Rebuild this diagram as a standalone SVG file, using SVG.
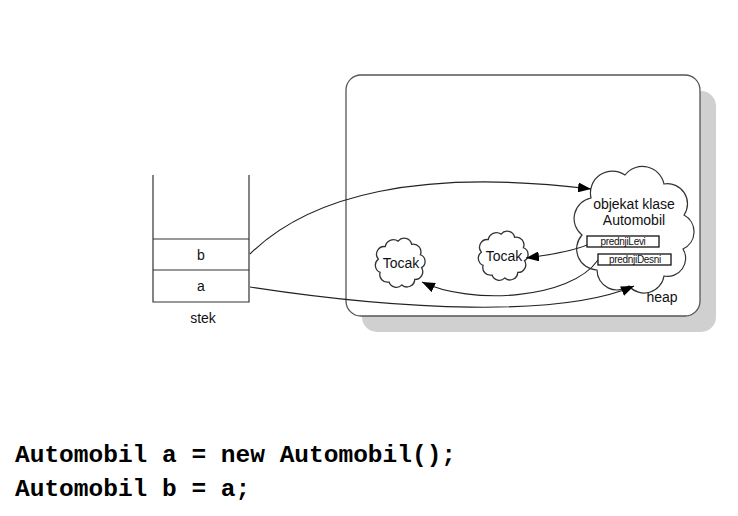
<svg xmlns="http://www.w3.org/2000/svg" width="738" height="516" viewBox="0 0 738 516">
<style>
text{font-family:"Liberation Sans",Arial,sans-serif;fill:#111}
.lbl{font-size:14px;text-anchor:middle}
.fld{font-size:10px;text-anchor:middle;letter-spacing:-0.3px}
.code{font-family:"Liberation Mono","Courier New",monospace;font-weight:bold;font-size:24.5px;fill:#000}
.ln{stroke:#333;stroke-width:1.2;fill:none}
.cloud{fill:#fff;stroke:#333;stroke-width:1.2}
.conn{fill:none;stroke:#222;stroke-width:1.1}
.box{fill:#fff;stroke:#111;stroke-width:1.3}
</style>
<defs>
<marker id="ah" markerUnits="userSpaceOnUse" markerWidth="14" markerHeight="10" refX="13" refY="5" orient="auto">
<path d="M0,0 L13,5 L0,10 Z" fill="#000"/>
</marker>
<path id="small" d="M-1.7,-19.9 A7 7 0 0 1 10.6,-17 A7 7 0 0 1 18.5,-7.5 A6.5 6.5 0 0 1 19.6,4.2 A7 7 0 0 1 13.4,14.9 A7 7 0 0 1 1.7,19.9 A7 7 0 0 1 -10,17.3 A7 7 0 0 1 -18.1,8.5 A7 7 0 0 1 -19.7,-3.5 A7 7 0 0 1 -13.4,-14.9 A7.5 7.5 0 0 1 -1.7,-19.9 Z"/>
</defs>
<rect width="738" height="516" fill="#fff"/>
<g id="heap">
<rect x="362" y="91" width="354" height="241" rx="15" fill="#d0d0d0"/>
<rect x="346" y="75" width="354" height="241" rx="15" fill="#fff" stroke="#555" stroke-width="1.3"/>
<text class="lbl" x="662" y="302">heap</text>
</g>
<g id="stek">
<path class="ln" d="M153,175 V302 H249 V175 M153,239 H249 M153,270 H249"/>
<text class="lbl" x="201" y="260">b</text>
<text class="lbl" x="201" y="291">a</text>
<text class="lbl" x="203" y="323">stek</text>
</g>
<g id="tocak1">
<use href="#small" class="cloud" transform="translate(400,263) scale(1.1)"/>
<text class="lbl" x="401" y="268">Tocak</text>
</g>
<g id="tocak2">
<use href="#small" class="cloud" transform="translate(503,256) scale(1.1)"/>
<text class="lbl" x="504" y="261">Tocak</text>
</g>
<g id="automobil">
<path class="cloud" d="M625,175 A22 22 0 0 1 664,184 A20 20 0 0 1 684,215 A19 19 0 0 1 683,249 A18 18 0 0 1 664,276 A20 20 0 0 1 629,286 A20 20 0 0 1 597,270 A21 21 0 0 1 582,235 A21 21 0 0 1 591,198 A22 22 0 0 1 625,175 Z"/>
<text class="lbl" x="634" y="209">objekat klase</text>
<text class="lbl" x="634" y="225">Automobil</text>
<rect class="box" x="587" y="236" width="72" height="11"/>
<text class="fld" x="623" y="245">prednjiLevi</text>
<rect class="box" x="598" y="254" width="73" height="11"/>
<text class="fld" x="635" y="263">prednjiDesni</text>
</g>
<g id="connectors">
<path class="conn" d="M250,254 C310,195 420,168 591,189" marker-end="url(#ah)"/>
<path class="conn" d="M250,287 C400,310 560,318 634,286" marker-end="url(#ah)"/>
<path class="conn" d="M587,245 C570,252 550,255 526,258" marker-end="url(#ah)"/>
<path class="conn" d="M598,260 C570,300 470,305 422,282" marker-end="url(#ah)"/>
</g>
<g id="code">
<text class="code" x="15" y="462">Automobil a = new Automobil();</text>
<text class="code" x="15" y="496">Automobil b = a;</text>
</g>
</svg>
